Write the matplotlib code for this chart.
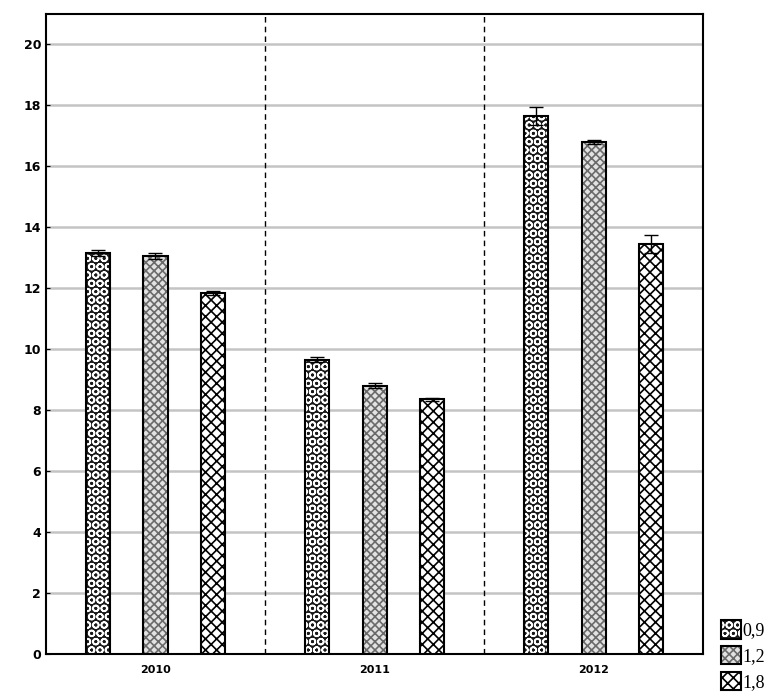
import matplotlib.pyplot as plt
import matplotlib.patches as mpatches
from matplotlib.legend_handler import HandlerTuple
import numpy as np

years = ['2010', '2011', '2012']
series = ['0,9', '1,2', '1,8']
values = {
    '0,9': [13.15, 9.65, 17.65],
    '1,2': [13.05, 8.80, 16.80],
    '1,8': [11.85, 8.35, 13.45],
}
errors = {
    '0,9': [0.10, 0.08, 0.30],
    '1,2': [0.10, 0.08, 0.08],
    '1,8': [0.06, 0.05, 0.28],
}

faces = ['#1a1a1a', '#e2e2e2', 'white']
hatches = ['OO', 'xxxx', 'xxx']
hatch_colors = ['white', '#6a6a6a', 'black']
plt.rcParams['hatch.linewidth'] = 1.2

fig = plt.figure(figsize=(7.78, 7.0), dpi=100)
ax = fig.add_axes([0.059, 0.066, 0.845, 0.914])

x = np.arange(len(years))
offsets = [-0.262, 0, 0.262]
width = 0.11

handles = []
for i, s in enumerate(series):
    ax.bar(x + offsets[i], values[s], width, facecolor=faces[i],
           edgecolor=hatch_colors[i], hatch=hatches[i], linewidth=0, zorder=3)
    ax.bar(x + offsets[i], values[s], width, facecolor='none',
           edgecolor='black', linewidth=1.5, zorder=4)
    ax.errorbar(x + offsets[i], values[s], yerr=errors[s], fmt='none',
                ecolor='black', capsize=5, elinewidth=1, zorder=5)
    fill = mpatches.Patch(facecolor=faces[i], edgecolor=hatch_colors[i],
                          hatch=hatches[i], linewidth=0)
    outline = mpatches.Patch(facecolor='none', edgecolor='black', linewidth=1.5)
    handles.append((fill, outline))

for b in [0.5, 1.5]:
    ax.axvline(b, color='black', linestyle=(0, (4, 3)), linewidth=1, zorder=2)

ax.set_xlim(-0.5, 2.5)
ax.set_ylim(0, 21)
ax.set_yticks(range(0, 21, 2))
ax.set_xticks(x)
ax.set_xticklabels(years)
ax.yaxis.grid(True, color='#c4c4c4', linewidth=1.8)
ax.set_axisbelow(True)
ax.tick_params(axis='y', direction='in', length=3, labelsize=9)
ax.tick_params(axis='x', length=0, labelsize=8, pad=8)
for lbl in ax.get_xticklabels() + ax.get_yticklabels():
    lbl.set_fontweight('bold')
for sp in ax.spines.values():
    sp.set_linewidth(1.5)

fig.legend(handles, series, loc='lower right', bbox_to_anchor=(1.0, -0.005),
           handler_map={tuple: HandlerTuple(ndivide=1, pad=0)},
           frameon=False, handlelength=1.1, handleheight=1.2, handletextpad=0.1,
           labelspacing=0.35, borderpad=0.2,
           prop={'family': 'Liberation Serif', 'size': 13})

fig.savefig('out.png', dpi=100)
